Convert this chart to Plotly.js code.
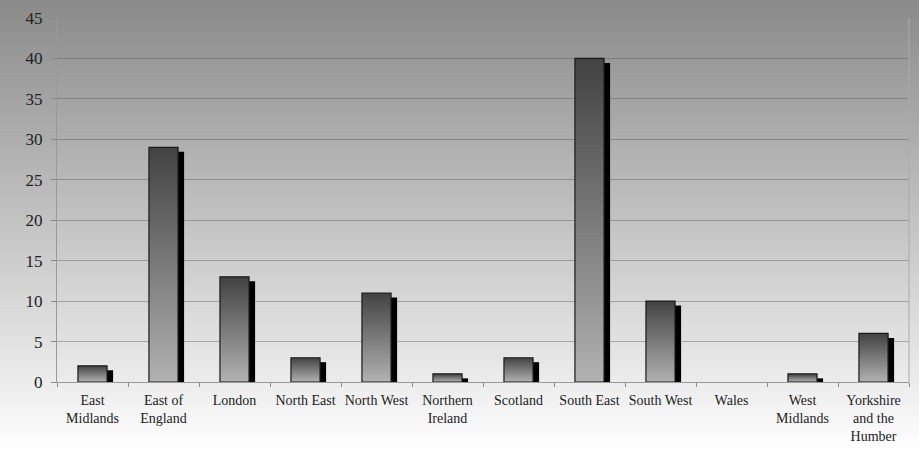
<!DOCTYPE html>
<html>
<head>
<meta charset="utf-8">
<script src="https://cdn.plot.ly/plotly-3.0.1.min.js"></script>
<style>
  html, body { margin: 0; padding: 0; }
  #chart { width: 919px; height: 450px; background: linear-gradient(to bottom, #8a8a8a 0px, #ececec 382px, #ffffff 450px); }
</style>
</head>
<body>
<div id="chart"></div>
<script>
const categories = ["East<br>Midlands", "East of<br>England", "London", "North East", "North West", "Northern<br>Ireland", "Scotland", "South East", "South West", "Wales", "West<br>Midlands", "Yorkshire<br>and the<br>Humber"];
const values = [2, 29, 13, 3, 11, 1, 3, 40, 10, 0, 1, 6];
const yTicks = [0, 5, 10, 15, 20, 25, 30, 35, 40, 45];

const barWidth = 0.41;
const shadowDx = 0.085;
const shadowDy = 0.55;

const shadow = {
  type: 'bar', x: categories, y: values, base: -shadowDy,
  width: barWidth, offset: -barWidth / 2 + shadowDx,
  marker: { color: '#000000', line: { width: 0 } },
  hoverinfo: 'skip', showlegend: false
};
const main = {
  type: 'bar', x: categories, y: values,
  width: barWidth, offset: -barWidth / 2,
  marker: { color: '#777777', line: { color: '#1a1a1a', width: values.map(v => v > 0 ? 1.2 : 0) } },
  showlegend: false
};

const layout = {
  width: 919, height: 450,
  margin: { l: 57, r: 10, t: 18, b: 68 },
  paper_bgcolor: 'rgba(0,0,0,0)',
  plot_bgcolor: 'rgba(0,0,0,0)',
  barmode: 'overlay',
  font: { family: '"Liberation Serif", "DejaVu Serif", serif', color: '#222222' },
  xaxis: {
    type: 'category', tickson: 'boundaries', ticks: 'outside', ticklen: 4,
    tickcolor: '#888888', showline: true, linecolor: '#999999', linewidth: 1,
    showgrid: false, tickfont: { size: 14, color: '#222222' }, tickangle: 0,
    ticklabelstandoff: 5
  },
  yaxis: {
    range: [0, 45], tickvals: yTicks, ticktext: yTicks.map(String),
    ticks: 'outside', ticklen: 5, tickcolor: '#888888',
    showline: true, linecolor: '#999999', linewidth: 1,
    gridcolor: 'rgba(80,80,80,0.4)', gridwidth: 1,
    tickfont: { size: 17, color: '#222222' }, zeroline: false,
    ticklabelstandoff: 5
  },
  shapes: [{
    type: 'line', xref: 'paper', yref: 'paper', x0: 1, x1: 1, y0: 0, y1: 1,
    line: { color: '#aaaaaa', width: 1 }
  }]
};

Plotly.newPlot('chart', [shadow, main], layout, { displayModeBar: false, staticPlot: true }).then(function (gd) {
  const svgNS = 'http://www.w3.org/2000/svg';
  const defs = gd.querySelector('.main-svg defs');
  const grad = document.createElementNS(svgNS, 'linearGradient');
  grad.setAttribute('id', 'barGrad');
  grad.setAttribute('x1', '0'); grad.setAttribute('y1', '0');
  grad.setAttribute('x2', '0'); grad.setAttribute('y2', '1');
  [['0%', '#424242'], ['100%', '#b2b2b2']].forEach(function (s) {
    const stop = document.createElementNS(svgNS, 'stop');
    stop.setAttribute('offset', s[0]);
    stop.setAttribute('stop-color', s[1]);
    grad.appendChild(stop);
  });
  defs.appendChild(grad);
  const traces = gd.querySelectorAll('.barlayer .trace');
  if (traces.length > 1) {
    traces[1].querySelectorAll('path').forEach(function (p) {
      p.style.fill = 'url(#barGrad)';
    });
  }
});
</script>
</body>
</html>
